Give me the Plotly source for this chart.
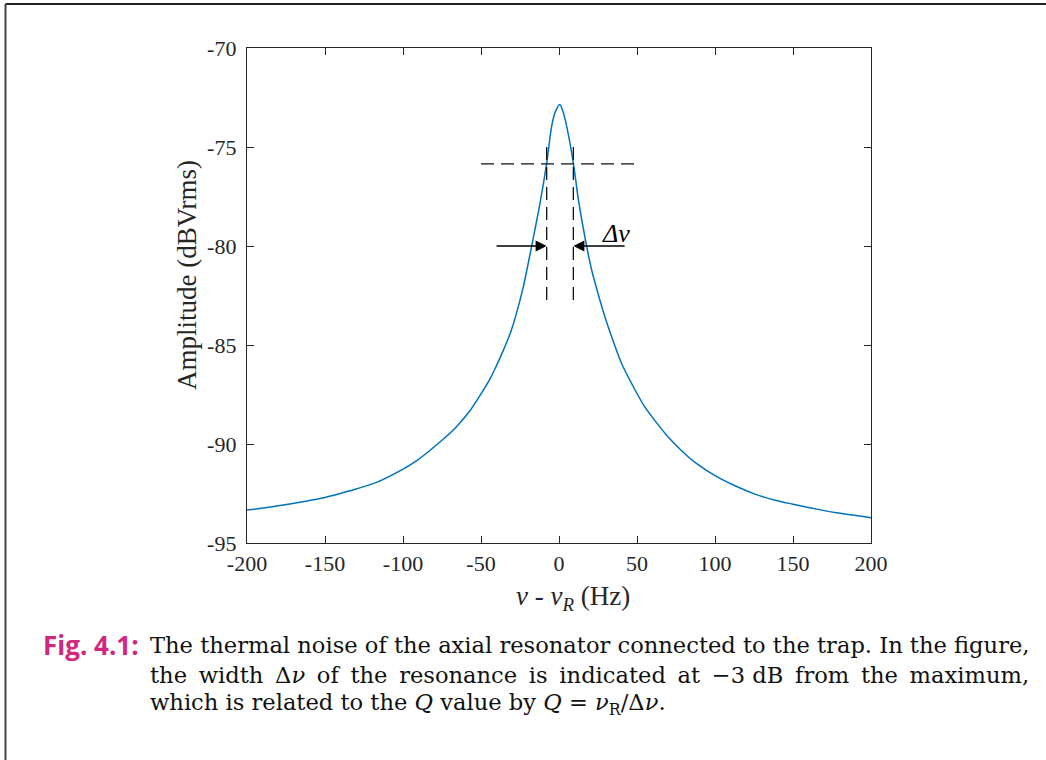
import plotly.graph_objects as go

# ---- data ----
freq_hz = [-200, -181, -150, -134, -117, -100, -91.2, -83, -74.1, -66, -57, -50, -44.2,
           -40, -35.7, -31, -27.1, -23, -20.7, -17.5, -12.2, -7.9, -4.7, -2.5, 0.5,
           2.5, 4.9, 9.2, 12.5, 17.7, 20.9, 25.2, 29.5, 33.8, 40.2, 50, 55.1, 61.5,
           70.1, 78.6, 87.2, 100, 112.8, 125.6, 138.5, 150, 168.4, 179, 200]
amp_db = [-93.34, -93.13, -92.70, -92.36, -91.94, -91.27, -90.84, -90.34, -89.75, -89.15,
          -88.31, -87.47, -86.71, -86.03, -85.27, -84.35, -83.35, -82.1, -81.25, -80.0,
          -77.85, -75.81, -73.95, -73.25, -72.85, -73.2, -73.95, -75.81, -77.7, -80.0,
          -81.2, -82.45, -83.6, -84.6, -85.95, -87.45, -88.14, -88.82, -89.66, -90.34,
          -90.93, -91.6, -92.11, -92.53, -92.84, -93.04, -93.34, -93.49, -93.72]

x_ticks = [-200, -150, -100, -50, 0, 50, 100, 150, 200]
x_tick_text = ["-200", "-150", "-100", "-50", "0", "50", "100", "150", "200"]
y_ticks = [-95, -90, -85, -80, -75, -70]
y_tick_text = ["-95", "-90", "-85", "-80", "-75", "-70"]

minus3db_level = -75.85
hline_x = [-50, 50]
vline_left = -7.9
vline_right = 9.2
vline_y = [-75, -83]
arrow_y = -80
arrow_left_tail = -41
arrow_right_tail = 43
label_pos = (36.5, -79.35)

# ---- layout geometry (pixels) ----
W, H = 1046, 760
L, R, T, B = 247, 175, 48, 217
PW, PH = W - L - R, H - T - B


def px_x(p):
    return (p - L) / PW


def px_y(p):
    return (H - B - p) / PH


serif = "Liberation Serif"
axis_col = "#262626"
dash_col = "#111111"
DASH = "13px,7px"

fig = go.Figure()
fig.add_trace(go.Scatter(x=freq_hz, y=amp_db, mode="lines",
                         line=dict(color="#0072BD", width=1.5, shape="spline", smoothing=0.8),
                         showlegend=False, hoverinfo="skip"))
# -3 dB horizontal line
fig.add_trace(go.Scatter(x=hline_x, y=[minus3db_level, minus3db_level], mode="lines",
                         line=dict(color=dash_col, width=1.3, dash=DASH),
                         showlegend=False, hoverinfo="skip"))
for vx in (vline_left, vline_right):
    fig.add_trace(go.Scatter(x=[vx, vx], y=vline_y, mode="lines",
                             line=dict(color=dash_col, width=1.3, dash=DASH),
                             showlegend=False, hoverinfo="skip"))

annotations = []
for tip, tail in ((vline_left, arrow_left_tail), (vline_right, arrow_right_tail)):
    annotations.append(dict(x=tip, y=arrow_y, ax=tail, ay=arrow_y, xref="x", yref="y",
                            axref="x", ayref="y", showarrow=True, arrowhead=2,
                            arrowsize=1.7, arrowwidth=1.3, arrowcolor="#000000", text=""))
annotations.append(dict(x=label_pos[0], y=label_pos[1], xref="x", yref="y", showarrow=False,
                        xanchor="center", yanchor="middle",
                        text="<i>Δν</i>", font=dict(family=serif, size=26, color="#000000")))
# axis titles
annotations.append(dict(x=px_x(187), y=px_y(275), xref="paper", yref="paper", showarrow=False,
                        xanchor="center", yanchor="middle",
                        text="Amplitude (dBVrms)", textangle=-90,
                        font=dict(family=serif, size=27, color=axis_col)))
annotations.append(dict(x=px_x(573), y=px_y(598), xref="paper", yref="paper", showarrow=False,
                        xanchor="center", yanchor="middle",
                        text="<i>ν</i> - <i>ν</i><sub><i>R</i></sub> (Hz)",
                        font=dict(family=serif, size=27, color=axis_col)))
# caption
cap_font = dict(family="DejaVu Serif", size=22.6, color="#111111")
annotations.append(dict(x=px_x(141), y=px_y(645), xref="paper", yref="paper", showarrow=False,
                        xanchor="right", yanchor="middle", text="<b>Fig. 4.1:</b>",
                        font=dict(family="Open Sans", size=26, color="#D0287F")))
line2_words = ["the", "width", "Δ<i>ν</i>", "of", "the", "resonance", "is", "indicated",
               "at", "−3 dB", "from", "the", "maximum,"]
cap_lines = [
    "The thermal noise of the axial resonator connected to the trap. In the figure,",
    " \u2009".join(line2_words),
    "which is related to the <i>Q</i> value by <i>Q</i> = <i>ν</i><sub>R</sub>/Δ<i>ν</i>.",
]
for line, ypix in zip(cap_lines, (645, 675, 704)):
    annotations.append(dict(x=px_x(148), y=px_y(ypix), xref="paper", yref="paper",
                            showarrow=False, xanchor="left", yanchor="middle",
                            text=line, font=cap_font))

shapes = [
    dict(type="line", xref="paper", yref="paper", x0=px_x(5.5), x1=px_x(1050),
         y0=px_y(4), y1=px_y(4), line=dict(color="#222222", width=2)),
    dict(type="line", xref="paper", yref="paper", x0=px_x(5.5), x1=px_x(5.5),
         y0=px_y(4), y1=px_y(770), line=dict(color="#444444", width=2)),
]

fig.update_layout(
    width=W, height=H,
    margin=dict(l=L, r=R, t=T, b=B, pad=0),
    paper_bgcolor="white", plot_bgcolor="white",
    annotations=annotations, shapes=shapes,
    xaxis=dict(range=[-200, 200], tickvals=x_ticks, ticktext=x_tick_text,
               ticks="inside", ticklen=7, tickwidth=1.2, tickcolor=axis_col,
               showline=True, linecolor=axis_col, linewidth=1.3, mirror="ticks",
               showgrid=False, zeroline=False,
               tickfont=dict(family=serif, size=22, color=axis_col)),
    yaxis=dict(range=[-95, -70], tickvals=y_ticks, ticktext=y_tick_text,
               ticks="inside", ticklen=7, tickwidth=1.2, tickcolor=axis_col,
               showline=True, linecolor=axis_col, linewidth=1.3, mirror="ticks",
               showgrid=False, zeroline=False, ticklabelstandoff=5,
               tickfont=dict(family=serif, size=22, color=axis_col)),
)

fig.write_html("out.html", config={"displayModeBar": False})
